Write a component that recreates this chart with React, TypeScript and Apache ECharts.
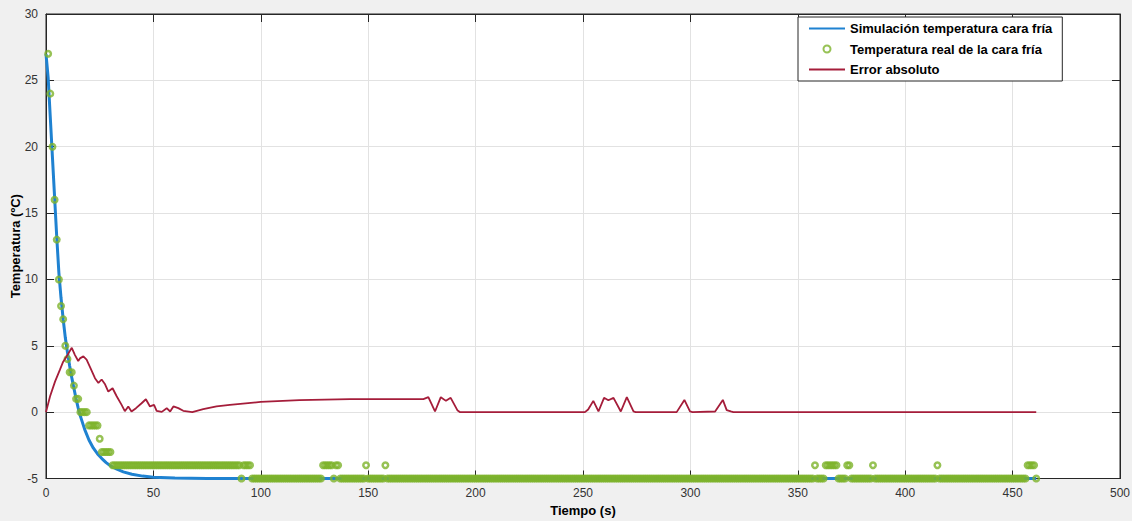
import React, { useEffect, useRef } from "react";
import * as echarts from "echarts";

// ---- Simulated cold-face temperature (blue curve)
const simTime = [0, 1, 2, 3, 4, 5, 6, 7, 8, 9, 10, 11, 12, 13, 14, 15, 16, 18, 20, 22, 24, 26, 28, 30, 33, 36, 40, 45, 50, 60, 75, 461];
const simTemp = [27, 25.2, 22.2, 19.2, 16.2, 13.2, 10.5, 8.6, 7, 5.6, 4.5, 3.5, 2.6, 1.8, 1.0, 0.3, -0.3, -1.3, -2.1, -2.7, -3.15, -3.5, -3.8, -4.05, -4.3, -4.5, -4.68, -4.82, -4.9, -4.97, -5, -5];

// ---- Measured cold-face temperature (green circles), 1 s samples, as runs of constant readings
const SAMPLE_STEP = 1;
const realRunStart = [1, 2, 3, 4, 5, 6, 7, 8, 9, 10, 11, 13, 14, 16, 20, 25, 26, 31, 91, 92, 96, 129, 134, 135, 137, 149, 150, 158, 159, 358, 359, 363, 369, 373, 375, 385, 386, 415, 416, 457, 461];
const realRunEnd = [1, 2, 3, 4, 5, 6, 7, 8, 9, 10, 12, 13, 15, 19, 24, 25, 30, 90, 91, 95, 128, 133, 134, 136, 148, 149, 157, 158, 357, 358, 362, 368, 372, 374, 384, 385, 414, 415, 456, 460, 461];
const realRunTemp = [27, 24, 20, 16, 13, 10, 8, 7, 5, 4, 3, 2, 1, 0, -1, -2, -3, -4, -5, -4, -5, -4, -5, -4, -5, -4, -5, -4, -5, -4, -5, -4, -5, -4, -5, -4, -5, -4, -5, -4, -5];

// ---- Absolute error (red line)
const errTime = [0, 1.9, 4.2, 6.5, 8, 9.6, 12, 13.5, 15, 15.8, 17.4, 18.9, 20.5, 22.8, 24.4, 25.9, 27.5, 29, 31, 32.9, 35.2, 36.7, 38.3, 39.8, 41.9, 44.5, 46.5, 48.4, 50.3, 51.5, 53.9, 56.2, 57.8, 59.3, 61.6, 63.9, 68.1, 73.2, 79.4, 85.6, 100, 118, 141.5, 175.7, 178, 181.1, 183.8, 186.2, 188.4, 191.5, 192.8, 250.9, 252.4, 254.8, 257.2, 259.8, 261.8, 264.2, 267.6, 270.4, 273.5, 274.5, 293.6, 297.2, 299.8, 301, 311.5, 315.1, 316.9, 318.8, 320, 461];
const errValue = [0, 1.2, 2.3, 3.2, 3.8, 4.2, 4.85, 4.3, 3.85, 4.05, 4.2, 3.96, 3.4, 2.56, 2.2, 2.46, 2.1, 1.55, 1.8, 1.2, 0.55, 0.07, 0.43, 0.05, 0.3, 0.67, 0.97, 0.43, 0.55, 0.1, 0.02, 0.3, 0.05, 0.43, 0.3, 0.1, 0, 0.22, 0.43, 0.55, 0.77, 0.9, 0.98, 0.98, 1.13, 0.05, 1.13, 0.85, 1.08, 0.15, 0, 0, 0.2, 0.85, 0.05, 1.08, 0.9, 1.08, 0.05, 1.13, 0.05, 0, 0, 0.92, 0.05, 0, 0.05, 0.92, 0.15, 0.05, 0, 0];

const seriesNames = ["Simulación temperatura cara fría", "Temperatura real de la cara fría", "Error absoluto"];
const xAxisName = "Tiempo (s)";
const yAxisName = "Temperatura (ºC)";

const FONT = '"Liberation Sans", Arial, Helvetica, sans-serif';
const BLUE = "#1f82d1";
const GREEN = "#7db32a";
const RED = "#a51d3a";
const AXIS = "#262626";

export default function App() {
  const ref = useRef<HTMLDivElement>(null);

  useEffect(() => {
    if (!ref.current) return;
    const chart = echarts.init(ref.current, undefined, { renderer: "svg" });

    const simData = simTime.map((t, i) => [t, simTemp[i]]);
    const realData: number[][] = [];
    realRunStart.forEach((s, i) => {
      for (let t = s; t <= realRunEnd[i]; t += SAMPLE_STEP) realData.push([t, realRunTemp[i]]);
    });
    const errData = errTime.map((t, i) => [t, errValue[i]]);

    const axisCommon = {
      type: "value" as const,
      axisLine: { show: true, onZero: false, lineStyle: { color: AXIS, width: 1 } },
      axisTick: { show: true, inside: true, length: 8, lineStyle: { color: AXIS } },
    };

    chart.setOption({
      animation: false,
      backgroundColor: "#f0f0f0",
      textStyle: { fontFamily: FONT },
      grid: {
        left: 46, right: 12, top: 14, bottom: 42.5,
        outerBoundsMode: "none",
        containLabel: false,
        show: true, backgroundColor: "#ffffff", borderColor: AXIS, borderWidth: 1,
      },
      legend: {
        orient: "vertical",
        left: 798, top: 17,
        padding: [5, 10, 5, 10],
        itemGap: 6, itemWidth: 36, itemHeight: 14,
        backgroundColor: "#ffffff", borderColor: AXIS, borderWidth: 1,
        textStyle: { fontSize: 13, fontWeight: "bold", color: "#000", fontFamily: FONT },
        data: [
          { name: seriesNames[0], itemStyle: { opacity: 0 } },
          { name: seriesNames[1], icon: "path://M0,0 M36,14 M21.5,7 A3.5,3.5 0 1 1 14.5,7 A3.5,3.5 0 1 1 21.5,7 Z" },
          { name: seriesNames[2], itemStyle: { opacity: 0 } },
        ],
      },
      xAxis: [
        {
          ...axisCommon,
          min: 0, max: 500, interval: 50,
          axisLabel: { color: "#333", fontSize: 12, margin: 8, fontFamily: FONT },
          splitLine: { show: true, lineStyle: { color: "#e2e2e2", width: 1 } },
          name: xAxisName, nameLocation: "middle", nameGap: 25, nameMoveOverlap: false,
          nameTextStyle: { fontWeight: "bold", fontSize: 13, color: "#000", fontFamily: FONT },
        },
        {
          ...axisCommon,
          position: "top",
          min: 0, max: 500, interval: 50,
          axisLabel: { show: false },
          splitLine: { show: false },
        },
      ],
      yAxis: [
        {
          ...axisCommon,
          min: -5, max: 30, interval: 5,
          axisLabel: { color: "#333", fontSize: 12, margin: 8, fontFamily: FONT },
          splitLine: { show: true, lineStyle: { color: "#e2e2e2", width: 1 } },
          name: yAxisName, nameLocation: "middle", nameGap: 24, nameMoveOverlap: false,
          nameTextStyle: { fontWeight: "bold", fontSize: 13, color: "#000", fontFamily: FONT },
        },
        {
          ...axisCommon,
          position: "right",
          min: -5, max: 30, interval: 5,
          axisLabel: { show: false },
          splitLine: { show: false },
        },
      ],
      series: [
        {
          name: seriesNames[0],
          type: "line",
          data: simData,
          symbol: "none",
          lineStyle: { color: BLUE, width: 3 },
          itemStyle: { color: BLUE },
          z: 2,
        },
        {
          name: seriesNames[1],
          type: "scatter",
          data: realData,
          symbol: "circle",
          symbolSize: 5.5,
          itemStyle: { color: "rgba(255,255,255,0)", borderColor: GREEN, borderWidth: 2.5 },
          z: 3,
        },
        {
          name: seriesNames[2],
          type: "line",
          data: errData,
          symbol: "none",
          lineStyle: { color: RED, width: 1.8 },
          itemStyle: { color: RED },
          z: 4,
        },
      ],
    });

    return () => chart.dispose();
  }, []);

  return <div ref={ref} style={{ position: "absolute", left: 0, top: 0, width: 1132, height: 521 }} />;
}
